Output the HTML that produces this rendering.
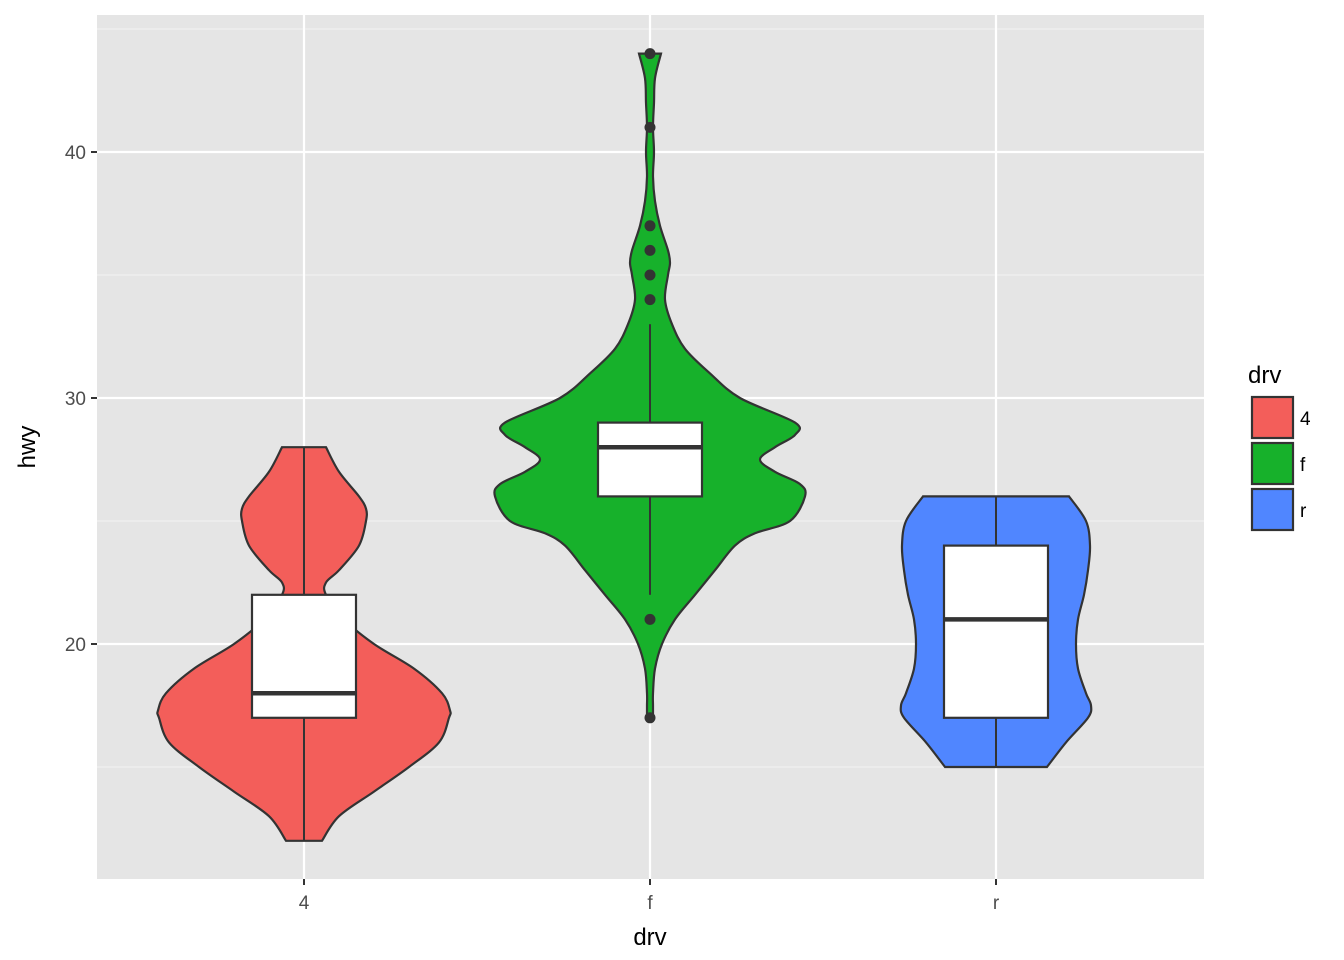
<!DOCTYPE html>
<html><head><meta charset="utf-8"><style>
body{margin:0;background:#fff;}
svg{display:block;font-family:"Liberation Sans",sans-serif;}
</style></head><body>
<svg id="chart" width="1344" height="960"></svg>
<script>
const categories=["4","f","r"];
const fills=["#F35E5A","#17B12B","#5086FF"];
const yTicks=[20,30,40];
const yMinor=[15,25,35,45];
const dens4Y=[12,13,14,15,16,17,17.3,18,19,20,21,22,22.5,23,24,25,25.5,26,27,28];
const dens4W=[18,35,70,105,135,145,146,138,110,70,40,22,22,35,55,62,62,55,35,22];
const densFY=[17,17.5,18,19,20,21,22,23,24,24.5,25,26,26.5,27,27.5,28,28.5,29,30,31,32,33,34,35,35.5,36,37,38,39,40,41,42,43,44];
const densFW=[3,3,3,5,12,25,45,65,85,105,140,155,150,125,110,125,145,145,90,60,35,22,15,18,20,18,10,5,3,4,3,4,5,11];
const densRY=[15,16,17,17.5,18,19,20,21,22,23,24,25,26];
const densRW=[51,70,92,95,90,82,80,82,88,92,94,90,73];
const boxLow=[12,22,15],boxQ1=[17,26,17],boxMed=[18,28,21],boxQ3=[22,29,24],boxHigh=[28,33,26];
const outliersF=[44,41,37,36,35,34,21,17];

const L=97,R=1204,T=15,B=879;
const y=v=>644-(v-20)*24.6;
const x=i=>304+i*346;
const S=document.getElementById('chart');
const NS="http://www.w3.org/2000/svg";
function el(t,a,p){const e=document.createElementNS(NS,t);for(const k in a)e.setAttribute(k,a[k]);(p||S).appendChild(e);return e;}
const bg=el('rect',{x:L,y:T,width:R-L,height:B-T,fill:'#E5E5E5'});

yMinor.forEach(v=>{const g=el('line',{x1:L,x2:R,y1:y(v),y2:y(v),stroke:'#F2F2F2','stroke-width':1.1});
});
yTicks.forEach(v=>{const g=el('line',{x1:L,x2:R,y1:y(v),y2:y(v),stroke:'#fff','stroke-width':2.2});

const t=el('line',{x1:91,x2:97,y1:y(v),y2:y(v),stroke:'#333','stroke-width':2});

const lb=el('text',{x:86,y:y(v)+7,'text-anchor':'end','font-size':19,fill:'#4D4D4D'});lb.textContent=v;
});
categories.forEach((c,i)=>{const g=el('line',{x1:x(i),x2:x(i),y1:T,y2:B,stroke:'#fff','stroke-width':2.2});

const t=el('line',{x1:x(i),x2:x(i),y1:879,y2:885,stroke:'#333','stroke-width':2});

const lb=el('text',{x:x(i),y:909,'text-anchor':'middle','font-size':19,fill:'#4D4D4D'});lb.textContent=c;
});
function spline(pts){let d=`M${pts[0][0]},${pts[0][1]}`;
for(let i=0;i<pts.length-1;i++){const p0=pts[Math.max(0,i-1)],p1=pts[i],p2=pts[i+1],p3=pts[Math.min(pts.length-1,i+2)];
d+=` C${p1[0]+(p2[0]-p0[0])/6},${p1[1]+(p2[1]-p0[1])/6} ${p2[0]-(p3[0]-p1[0])/6},${p2[1]-(p3[1]-p1[1])/6} ${p2[0]},${p2[1]}`;}return d;}
const dens=[[dens4Y,dens4W],[densFY,densFW],[densRY,densRW]];
dens.forEach(([ys,ws],i)=>{const cx=x(i);
const right=ys.map((v,k)=>[cx+ws[k],y(v)]);const left=ys.map((v,k)=>[cx-ws[k],y(v)]).reverse();
let d=spline(right);d+=' L'+spline(left).slice(1)+' Z';
const p=el('path',{d,fill:fills[i],stroke:'#333','stroke-width':2.2});

const w1=el('line',{x1:cx,x2:cx,y1:y(boxLow[i]),y2:y(boxQ1[i]),stroke:'#333','stroke-width':2});

const w2=el('line',{x1:cx,x2:cx,y1:y(boxHigh[i]),y2:y(boxQ3[i]),stroke:'#333','stroke-width':2});

const b=el('rect',{x:cx-52,y:y(boxQ3[i]),width:104,height:y(boxQ1[i])-y(boxQ3[i]),fill:'#fff',stroke:'#333','stroke-width':2.2});

const m=el('line',{x1:cx-52,x2:cx+52,y1:y(boxMed[i]),y2:y(boxMed[i]),stroke:'#333','stroke-width':4.5});
});
outliersF.forEach(v=>{const c=el('circle',{cx:x(1),cy:y(v),r:5.5,fill:'#333'});
});
const xt=el('text',{x:650,y:945,'text-anchor':'middle','font-size':24,fill:'#000'});xt.textContent='drv';

const yt=el('text',{x:0,y:0,'text-anchor':'middle','font-size':24,fill:'#000',transform:'translate(35,447) rotate(-90)'});yt.textContent='hwy';

const lt=el('text',{x:1248,y:383,'font-size':24,fill:'#000'});lt.textContent='drv';

categories.forEach((c,i)=>{const yy=397+i*46;
const k=el('rect',{x:1252,y:yy,width:41,height:41,fill:fills[i],stroke:'#333','stroke-width':2.2});

const lb=el('text',{x:1300,y:yy+28,'font-size':19,fill:'#000'});lb.textContent=c;
});
</script>
</body></html>
